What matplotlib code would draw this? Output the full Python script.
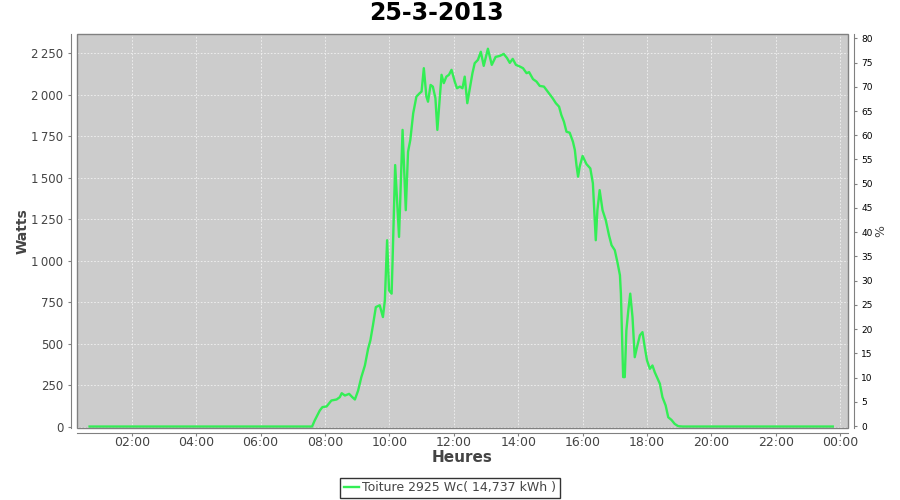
import matplotlib
matplotlib.use("Agg")
import matplotlib.pyplot as plt
from matplotlib.patches import Rectangle
from matplotlib.ticker import FuncFormatter, MultipleLocator

# data: time in hours, power in watts
heures = [0.69, 7.60, 7.68, 7.84, 7.92, 8.05, 8.20, 8.36, 8.46, 8.52, 8.62, 8.75, 8.85, 8.93,
          9.03, 9.13, 9.24, 9.34, 9.41, 9.49, 9.58, 9.70, 9.80, 9.86, 9.93, 9.99, 10.07, 10.10,
          10.18, 10.30, 10.41, 10.51, 10.58, 10.65, 10.74, 10.84, 10.94, 11.00, 11.07, 11.15,
          11.20, 11.28, 11.35, 11.43, 11.49, 11.57, 11.62, 11.69, 11.77, 11.85, 11.93, 12.03,
          12.10, 12.19, 12.27, 12.34, 12.42, 12.50, 12.58, 12.65, 12.75, 12.84, 12.93, 13.06,
          13.18, 13.30, 13.43, 13.55, 13.65, 13.74, 13.83, 13.93, 14.05, 14.15, 14.26, 14.34,
          14.46, 14.57, 14.67, 14.80, 14.93, 15.07, 15.17, 15.27, 15.34, 15.42, 15.50, 15.60,
          15.70, 15.76, 15.81, 15.86, 15.91, 16.00, 16.12, 16.24, 16.32, 16.41, 16.46, 16.53,
          16.62, 16.72, 16.82, 16.90, 17.00, 17.08, 17.16, 17.19, 17.26, 17.31, 17.36, 17.42,
          17.48, 17.55, 17.62, 17.69, 17.78, 17.86, 17.93, 18.00, 18.09, 18.17, 18.24, 18.31,
          18.40, 18.48, 18.58, 18.66, 18.76, 18.86, 18.97, 19.11, 23.77]
watts = [0, 0, 36, 97, 117, 121, 157, 163, 177, 201, 187, 197, 177, 163,
         217, 298, 368, 469, 519, 610, 720, 731, 660, 761, 1123, 821, 801, 1002,
         1576, 1143, 1788, 1304, 1656, 1727, 1888, 1989, 2009, 2019, 2160, 1989,
         1958, 2059, 2049, 1979, 1788, 1989, 2120, 2070, 2109, 2120, 2150, 2079,
         2039, 2049, 2039, 2109, 1949, 2039, 2130, 2190, 2210, 2259, 2174, 2277,
         2180, 2228, 2234, 2246, 2222, 2192, 2216, 2180, 2170, 2160, 2130, 2136,
         2094, 2079, 2053, 2049, 2015, 1979, 1949, 1928, 1878, 1838, 1777, 1771,
         1717, 1667, 1576, 1506, 1566, 1631, 1582, 1556, 1466, 1123, 1304, 1425,
         1304, 1244, 1153, 1093, 1063, 992, 912, 801, 298, 298, 580, 700,
         801, 660, 418, 479, 550, 569, 479, 399, 348, 368, 328, 298,
         258, 177, 127, 56, 40, 16, 2, 0, 0]

x_ticks = [2, 4, 6, 8, 10, 12, 14, 16, 18, 20, 22, 24]
x_labels = ["02:00", "04:00", "06:00", "08:00", "10:00", "12:00",
            "14:00", "16:00", "18:00", "20:00", "22:00", "00:00"]

titre = "25-3-2013"
serie = "Toiture 2925 Wc( 14,737 kWh )"

txt = "#444444"
axe = "#808080"

fig = plt.figure(figsize=(9, 5), dpi=100)
ax = fig.add_axes([0.0852, 0.1446, 0.8573, 0.7874])
ax.set_facecolor("#cccccc")

ax.plot(heures, watts, color="#33ee55", linewidth=1.7, label=serie, zorder=3)

ax.set_xlim(0.29, 24.25)
ax.set_ylim(-7, 2366)
ax.set_xticks(x_ticks)
ax.set_xticklabels(x_labels)
ax.yaxis.set_major_locator(MultipleLocator(250))
ax.yaxis.set_major_formatter(FuncFormatter(lambda v, p: "{:,}".format(int(v)).replace(",", "\u202f")))
ax.grid(True, color="#f2f2f2", linestyle=(0, (2, 2)), linewidth=0.6)

# plot outline + detached axis lines (like the original)
for s in ["top", "right"]:
    ax.spines[s].set_visible(False)
for s in ["left", "bottom"]:
    ax.spines[s].set_position(("outward", 4))
    ax.spines[s].set_color(axe)
ax.add_patch(Rectangle((0, 0), 1, 1, transform=ax.transAxes, fill=False,
                       edgecolor=axe, linewidth=1, clip_on=False, zorder=4))
ax.tick_params(colors=axe, labelcolor=txt, labelsize=8.5, length=2, width=0.8)
ax.tick_params(axis="x", labelsize=9, pad=0)

ax.set_xlabel("Heures", fontsize=11, fontweight="bold", color=txt, labelpad=1)
ax.set_ylabel("Watts", fontsize=10, fontweight="bold", color=txt, labelpad=1)
fig.text(436 / 900, 1 - 13 / 500, titre, fontsize=17, fontweight="bold",
         color="black", ha="center", va="center")

# right axis in percent
ax2 = ax.twinx()
ax2.set_ylim(-0.35, 80.9)
ax2.yaxis.set_major_locator(MultipleLocator(5))
for s in ["top", "left", "bottom"]:
    ax2.spines[s].set_visible(False)
ax2.spines["right"].set_position(("outward", 4))
ax2.spines["right"].set_color(axe)
ax2.tick_params(colors=axe, labelcolor="black", labelsize=6.5, length=2, width=0.8)
ax2.set_ylabel("%", fontsize=9, color=txt, labelpad=1)

leg = fig.legend(loc="center", bbox_to_anchor=(0.5, 0.024), fontsize=9, frameon=True,
                 fancybox=False, edgecolor="black", handlelength=1.2, handletextpad=0.3,
                 borderpad=0.3, borderaxespad=0)
leg.get_frame().set_linewidth(1)
for t in leg.get_texts():
    t.set_color(txt)

fig.savefig("out.png", dpi=100)
